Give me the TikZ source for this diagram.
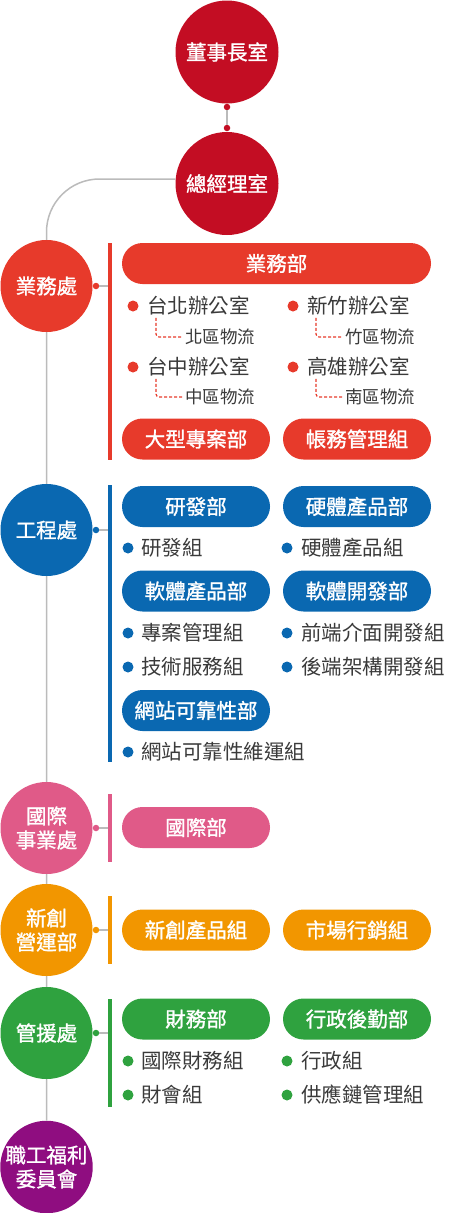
\documentclass[tikz,border=0pt]{standalone}
\usepackage{fontspec}
\setmainfont{Noto Sans CJK TC}
\newfontfamily\heavycjk{Noto Sans CJK TC}[FakeBold=1.3]
\usepackage{tikz}

\definecolor{topred}{HTML}{C30D23}
\definecolor{salesred}{HTML}{E73A2B}
\definecolor{engblue}{HTML}{0A68B1}
\definecolor{intlpink}{HTML}{E05A88}
\definecolor{startorange}{HTML}{F29600}
\definecolor{admingreen}{HTML}{2FA23F}
\definecolor{welfpurple}{HTML}{8F0D80}
\definecolor{linegray}{HTML}{BBBBBB}
\definecolor{txtgray}{HTML}{3A3A3A}

\newcommand{\bigtxt}{\fontsize{20.5}{24}\selectfont}
\newcommand{\heavytxt}{\heavycjk\fontsize{20.5}{24}\selectfont}
\newcommand{\smalltxt}{\fontsize{17.5}{20}\selectfont}

\begin{document}
\begin{tikzpicture}[x=1pt,y=-1pt]
	\tikzstyle{office}=[circle,fill=topred,text=white,minimum size=103pt,inner sep=0pt,font=\heavytxt]
	\tikzstyle{division}=[circle,text=white,minimum size=92pt,inner sep=0pt,align=center,font=\heavytxt]
	\tikzstyle{pill}=[rounded corners=20.5pt,text=white,minimum width=148pt,minimum height=41pt,inner sep=0pt,font=\heavytxt]
	\tikzstyle{widepill}=[pill,minimum width=309pt]
	\tikzstyle{item}=[anchor=west,inner sep=0pt,text=txtgray,font=\bigtxt]
	\tikzstyle{subitem}=[anchor=west,inner sep=0pt,text=txtgray,font=\smalltxt]
	\tikzstyle{bul}=[circle,inner sep=0pt,minimum size=11pt]
	\tikzstyle{joint}=[circle,inner sep=0pt,minimum size=6.5pt]
	\tikzstyle{conn}=[draw=linegray,line width=1.5pt]
	\tikzstyle{vbar}=[line width=3.5pt]
	\tikzstyle{branch}=[densely dashed,line width=1.2pt,rounded corners=3pt,shorten <=2pt,shorten >=3pt]

	\useasboundingbox (0,0) rectangle (450,1213);

	\node[office](chair) at (227,52){董事長室};
	\node[office](gm) at (227,183.5){總經理室};
	\node[joint,fill=topred](cd) at (227,107){};
	\node[joint,fill=topred](gd) at (227,128){};
	\draw[conn] (cd) -- (gd);

	\node[division,fill=welfpurple](welf) at (46.5,1167){職工福利\\委員會};
	\draw[conn,rounded corners=53pt] ([yshift=4.5pt]gm.west) -| (welf.north);

	\node[division,fill=salesred](sales) at (46.5,286){業務處};
	\node[joint,fill=salesred](sd) at (96,286){};
	\coordinate (sb) at (110,286);
	\draw[conn] (sd) -- (sb);
	\draw[vbar,salesred] (110,243) -- (110,460);

	\node[widepill,fill=salesred](salesdept) at (276.5,263.5){業務部};
	\node[bul,fill=salesred](tpb) at (133,306){};
	\node[item](tp) at (147,306){台北辦公室};
	\node[subitem](tpl) at (185,337){北區物流};
	\draw[branch,salesred] ([xshift=9pt]tp.south west) |- (tpl.west);
	\node[bul,fill=salesred](hcb) at (293,306){};
	\node[item](hc) at (307,306){新竹辦公室};
	\node[subitem](hcl) at (345,337){竹區物流};
	\draw[branch,salesred] ([xshift=9pt]hc.south west) |- (hcl.west);
	\node[bul,fill=salesred](tcb) at (133,367){};
	\node[item](tc) at (147,367){台中辦公室};
	\node[subitem](tcl) at (185,397){中區物流};
	\draw[branch,salesred] ([xshift=9pt]tc.south west) |- (tcl.west);
	\node[bul,fill=salesred](ksb) at (293,367){};
	\node[item](ks) at (307,367){高雄辦公室};
	\node[subitem](ksl) at (345,397){南區物流};
	\draw[branch,salesred] ([xshift=9pt]ks.south west) |- (ksl.west);
	\node[pill,fill=salesred](project) at (196,439){大型專案部};
	\node[pill,fill=salesred](account) at (357,439){帳務管理組};

	\node[division,fill=engblue](eng) at (46.5,530){工程處};
	\node[joint,fill=engblue](ed) at (96,530){};
	\coordinate (eb) at (110,530);
	\draw[conn] (ed) -- (eb);
	\draw[vbar,engblue] (110,485) -- (110,762);

	\node[pill,fill=engblue](rd) at (196,506.5){研發部};
	\node[pill,fill=engblue](hw) at (357,506.5){硬體產品部};
	\node[bul,fill=engblue](rdgb) at (128,548){};
	\node[item](rdg) at (141,548){研發組};
	\node[bul,fill=engblue](hwgb) at (287,548){};
	\node[item](hwg) at (301,548){硬體產品組};
	\node[pill,fill=engblue](swp) at (196,591){軟體產品部};
	\node[pill,fill=engblue](swd) at (357,591){軟體開發部};
	\node[bul,fill=engblue](pmb) at (128,633){};
	\node[item](pm) at (141,633){專案管理組};
	\node[bul,fill=engblue](tsb) at (128,667){};
	\node[item](ts) at (141,667){技術服務組};
	\node[bul,fill=engblue](feb) at (287,633){};
	\node[item](fe) at (301,633){前端介面開發組};
	\node[bul,fill=engblue](beb) at (287,667){};
	\node[item](be) at (301,667){後端架構開發組};
	\node[pill,fill=engblue](sre) at (196,710.5){網站可靠性部};
	\node[bul,fill=engblue](sregb) at (128,752){};
	\node[item](sreg) at (141,752){網站可靠性維運組};

	\node[division,fill=intlpink](intl) at (46.5,828){國際\\事業處};
	\node[joint,fill=intlpink](id) at (96,828){};
	\coordinate (ib) at (110,828);
	\draw[conn] (id) -- (ib);
	\draw[vbar,intlpink] (110,794) -- (110,862);
	\node[pill,fill=intlpink](intldept) at (196,827.5){國際部};

	\node[division,fill=startorange](start) at (46.5,930){新創\\營運部};
	\node[joint,fill=startorange](std) at (96,930){};
	\coordinate (stb) at (110,930);
	\draw[conn] (std) -- (stb);
	\draw[vbar,startorange] (110,896) -- (110,964);
	\node[pill,fill=startorange](newprod) at (196,930){新創產品組};
	\node[pill,fill=startorange](market) at (357,930){市場行銷組};

	\node[division,fill=admingreen](admin) at (46.5,1033){管援處};
	\node[joint,fill=admingreen](ad) at (96,1033){};
	\coordinate (ab) at (110,1033);
	\draw[conn] (ad) -- (ab);
	\draw[vbar,admingreen] (110,999) -- (110,1107);

	\node[pill,fill=admingreen](fin) at (196,1019){財務部};
	\node[pill,fill=admingreen](gen) at (357,1019){行政後勤部};
	\node[bul,fill=admingreen](iftb) at (128,1061){};
	\node[item](ift) at (141,1061){國際財務組};
	\node[bul,fill=admingreen](accb) at (128,1095){};
	\node[item](acc) at (141,1095){財會組};
	\node[bul,fill=admingreen](gagb) at (287,1061){};
	\node[item](gag) at (301,1061){行政組};
	\node[bul,fill=admingreen](scmb) at (287,1095){};
	\node[item](scm) at (301,1095){供應鏈管理組};

\end{tikzpicture}
\end{document}
